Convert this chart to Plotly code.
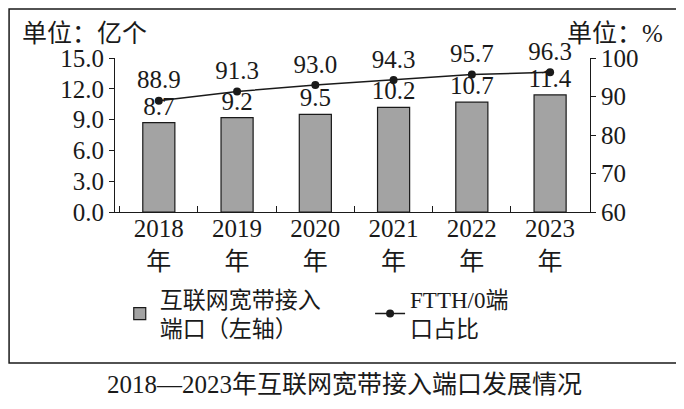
import plotly.graph_objects as go

years = ["2018", "2019", "2020", "2021", "2022", "2023"]
ports = [8.7, 9.2, 9.5, 10.2, 10.7, 11.4]
ftth_share = [88.9, 91.3, 93.0, 94.3, 95.7, 96.3]

categories = [f"{y}<br>年" for y in years]
FONT = "Liberation Serif, Noto Sans CJK SC"
INK = "#1a1a1a"
NUM = 25

fig = go.Figure()

fig.add_trace(go.Bar(
    x=categories, y=ports, name="互联网宽带接入<br>端口（左轴）", legend="legend",
    marker=dict(color="#a3a3a3", line=dict(color=INK, width=1.2)),
    width=0.41, text=[f"{v:.1f}" for v in ports], textposition="outside",
    constraintext="none", textfont=dict(size=NUM, color=INK), cliponaxis=False,
))

fig.add_trace(go.Scatter(
    x=categories, y=ftth_share, name="FTTH/0端<br>口占比", yaxis="y2", legend="legend2",
    mode="lines+markers+text", line=dict(color=INK, width=1.5),
    marker=dict(color=INK, size=8), text=[f"{v:.1f}" for v in ftth_share],
    textposition="top center", textfont=dict(size=NUM, color=INK), cliponaxis=False,
))

axis_common = dict(showline=True, linecolor=INK, linewidth=1.2, showgrid=False,
                   zeroline=False, ticks="outside", ticklen=5, tickcolor=INK,
                   tickfont=dict(size=NUM, color=INK, family=FONT))

legend_common = dict(orientation="h", yanchor="middle", xanchor="left",
                     font=dict(size=23, color=INK), itemwidth=30,
                     bgcolor="rgba(0,0,0,0)")

# page body has an 8px margin, so the figure is 8px smaller than the window
fig.update_layout(
    width=676, height=401,
    margin=dict(l=107, r=94, t=50, b=197, autoexpand=False),
    paper_bgcolor="white", plot_bgcolor="white",
    font=dict(family=FONT, color=INK, size=23),
    xaxis=dict(type="category", showline=True, linecolor=INK, linewidth=1.2,
               showgrid=False, ticks="inside", ticklen=6, tickcolor=INK,
               tickson="boundaries", range=[-0.56, 5.51], ticklabelstandoff=-6,
               tickfont=dict(size=NUM, color=INK, family=FONT)),
    yaxis=dict(range=[0, 15], dtick=3, tickformat=".1f", **axis_common),
    yaxis2=dict(range=[60, 100], dtick=10, overlaying="y", side="right", **axis_common),
    legend=dict(x=0.01, y=-0.66, **legend_common),
    legend2=dict(x=0.537, y=-0.66, **legend_common),
    showlegend=True,
)

fig.add_annotation(text="单位：亿个", xref="paper", yref="paper", x=-0.2, y=1.16,
                   xanchor="left", yanchor="middle", showarrow=False,
                   font=dict(size=25, color=INK))
fig.add_annotation(text="单位：%", xref="paper", yref="paper", x=1.158, y=1.16,
                   xanchor="right", yanchor="middle", showarrow=False,
                   font=dict(size=25, color=INK))
fig.add_annotation(text="2018—2023年互联网宽带接入端口发展情况", xref="paper", yref="paper",
                   x=0.484, y=-1.123, xanchor="center", yanchor="middle", showarrow=False,
                   font=dict(size=25, color=INK))

fig.add_shape(type="rect", xref="paper", yref="paper", x0=-0.223, x1=1.189,
              y0=-0.98, y1=1.318, line=dict(color=INK, width=1.5))

fig.write_html("out.html")
